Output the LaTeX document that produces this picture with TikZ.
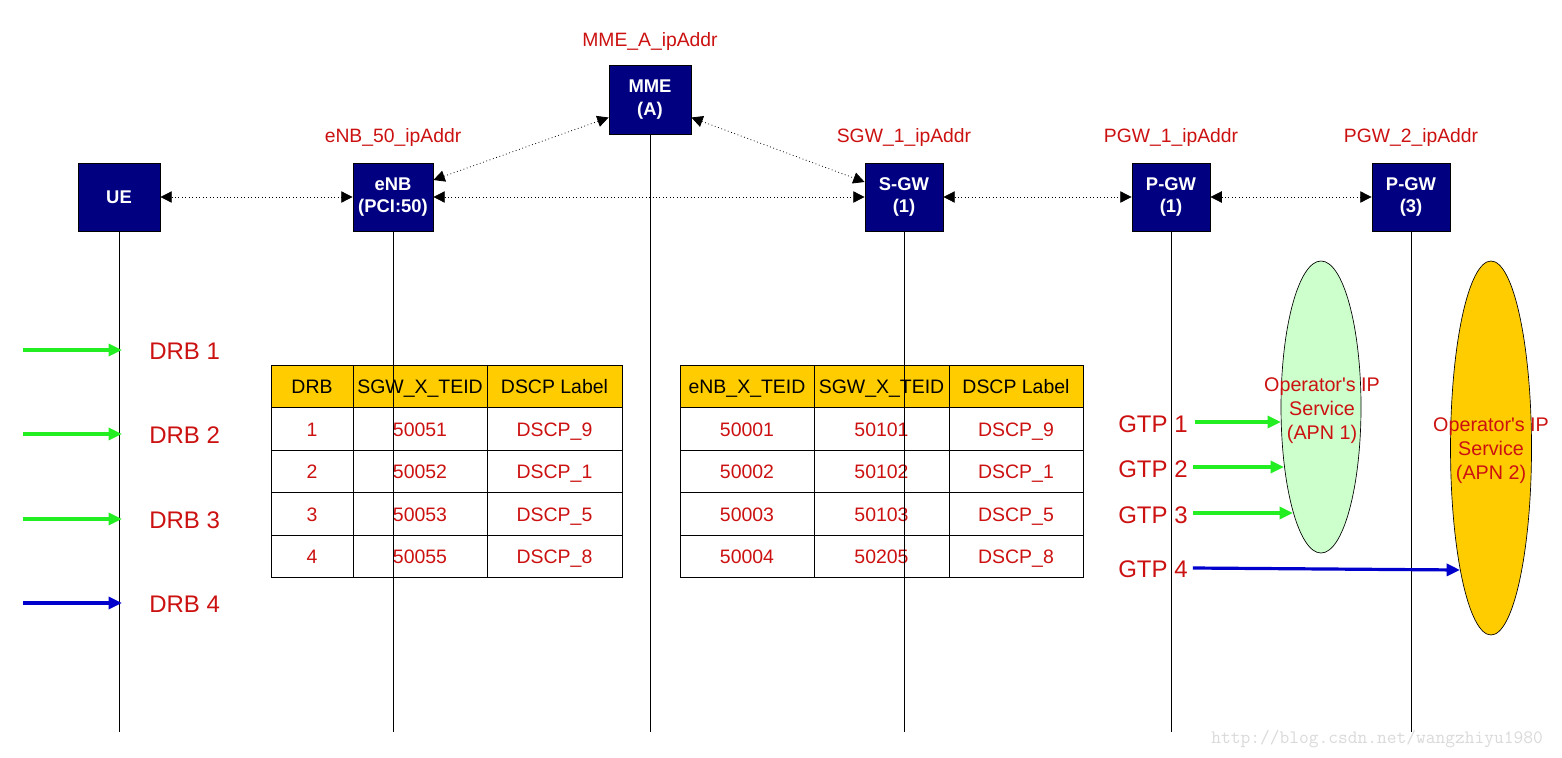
\documentclass[tikz,border=0pt]{standalone}
\usepackage{fontspec}
\setmainfont{Liberation Sans}
\newfontfamily\plainsans{Liberation Sans}
\usetikzlibrary{arrows.meta,calc,shapes.geometric}
\definecolor{navybox}{RGB}{0,0,128}
\definecolor{redtxt}{RGB}{204,17,17}
\definecolor{gold}{RGB}{255,204,0}
\definecolor{lightgreen}{RGB}{204,255,204}
\definecolor{arrowgreen}{RGB}{34,238,34}
\definecolor{arrowblue}{RGB}{0,0,204}
\definecolor{wmgray}{RGB}{218,218,218}
\begin{document}
\begin{tikzpicture}[x=0.75pt,y=-0.75pt,
  entity/.style={draw=black, fill=navybox, text=white, line width=0.6pt,
    font=\fontsize{13.8}{17}\selectfont\bfseries, align=center, inner sep=0pt},
  addr/.style={text=redtxt, font=\fontsize{14.5}{17}\selectfont, anchor=base},
  life/.style={line width=0.75pt, black},
  sig/.style={dotted, line width=0.6pt,
    {Triangle[length=8.5pt,width=8.5pt]}-{Triangle[length=8.5pt,width=8.5pt]}},
  flowarrow/.style={line width=2.4pt, -{Triangle[length=10pt,width=9pt]}},
  flowlbl/.style={text=redtxt, font=\fontsize{18}{20}\selectfont, anchor=west, inner sep=0pt},
  tbl/.style={line width=0.75pt, black},
  hdr/.style={text=black, font=\fontsize{14.6}{17}\selectfont, text height=0.72em, text depth=0pt, inner sep=0pt},
  cell/.style={text=redtxt, font=\fontsize{14.6}{17}\selectfont, text height=0.72em, text depth=0pt, inner sep=0pt},
  apn/.style={ellipse, draw=black, line width=0.5pt, inner sep=0pt},
  apntxt/.style={text=redtxt, font=\plainsans\fontsize{14.8}{18}\selectfont, align=center, inner sep=0pt}
]
\useasboundingbox (0,0) rectangle (1562,757);
\fill[white] (0,0) rectangle (1562,757);
\coordinate (bottom) at (0,732);

% tables (drawn first, lifelines over them)
\fill[gold] (271,365) rectangle (622,407);
\draw[tbl] (271,365) rectangle (622,577);
\foreach \y in {407,450,492,535} \draw[tbl] (271,\y) -- (622,\y);
\foreach \x in {353,487} \draw[tbl] (\x,365) -- (\x,577);
\node[hdr] (lh1) at (312,389) {DRB};
\node[hdr] (lh2) at (420,389) {SGW\_X\_TEID};
\node[hdr] (lh3) at (554.5,389) {DSCP Label};
\foreach \r/\a/\b/\c in {1/1/50051/9, 2/2/50052/1, 3/3/50053/5, 4/4/50055/8}{
  \node[cell] (la\r) at (312,{389+42.5*\r}) {\a};
  \node[cell] (lb\r) at (420,{389+42.5*\r}) {\b};
  \node[cell] (lc\r) at (554.5,{389+42.5*\r}) {DSCP\_\c};
}
\fill[gold] (680,365) rectangle (1083,407);
\draw[tbl] (680,365) rectangle (1083,577);
\foreach \y in {407,450,492,535} \draw[tbl] (680,\y) -- (1083,\y);
\foreach \x in {814,949} \draw[tbl] (\x,365) -- (\x,577);
\node[hdr] (rh1) at (747,389) {eNB\_X\_TEID};
\node[hdr] (rh2) at (881.5,389) {SGW\_X\_TEID};
\node[hdr] (rh3) at (1016,389) {DSCP Label};
\foreach \r/\a/\b/\c in {1/50001/50101/9, 2/50002/50102/1, 3/50003/50103/5, 4/50004/50205/8}{
  \node[cell] (ra\r) at (747,{389+42.5*\r}) {\a};
  \node[cell] (rb\r) at (881.5,{389+42.5*\r}) {\b};
  \node[cell] (rc\r) at (1016,{389+42.5*\r}) {DSCP\_\c};
}

% entities
\node[entity, minimum width=61.5pt, minimum height=51pt] (ue) at (119,197) {UE};
\node[entity, minimum width=60pt, minimum height=51pt] (enb) at (393,197) {eNB\\(PCI:50)};
\node[entity, minimum width=61.5pt, minimum height=51.75pt] (mme) at (650,99.5) {MME\\(A)};
\node[entity, minimum width=58.5pt, minimum height=51pt] (sgw) at (904,197) {S-GW\\(1)};
\node[entity, minimum width=58.5pt, minimum height=51pt] (pgw1) at (1171,197) {P-GW\\(1)};
\node[entity, minimum width=58.5pt, minimum height=51pt] (pgw2) at (1411,197) {P-GW\\(3)};

% address labels
\node[addr] (mmeaddr) at (650,46) {MME\_A\_ipAddr};
\node[addr] (enbaddr) at (393,142) {eNB\_50\_ipAddr};
\node[addr] (sgwaddr) at (904,142) {SGW\_1\_ipAddr};
\node[addr] (pgw1addr) at (1171,142) {PGW\_1\_ipAddr};
\node[addr] (pgw2addr) at (1411,142) {PGW\_2\_ipAddr};

% lifelines
\foreach \n in {ue,enb,mme,sgw,pgw1,pgw2}
  \draw[life] (\n.south) -- (\n.south |- bottom);

% signalling links
\draw[sig] (ue.east) -- (enb.west);
\draw[sig] (enb.east) -- (sgw.west);
\draw[sig] (sgw.east) -- (pgw1.west);
\draw[sig] (pgw1.east) -- (pgw2.west);
\draw[sig] ($(mme.west)+(0,18)$) -- ($(enb.east)+(0,-17)$);
\draw[sig] ($(mme.east)+(0,18)$) -- ($(sgw.west)+(0,-15)$);

% DRB arrows
\foreach \i/\y/\col in {1/350/arrowgreen, 2/434/arrowgreen, 3/519/arrowgreen, 4/603/arrowblue}{
  \coordinate (ds\i) at (23,\y);
  \coordinate (de\i) at (122,\y);
  \draw[flowarrow, \col] (ds\i) -- (de\i);
  \node[flowlbl] (drb\i) at (149,{\y+1}) {DRB \i};
}

% APN ellipses
\node[apn, fill=lightgreen, minimum width=60pt, minimum height=219pt] (apn1) at (1321,407) {};
\node[apn, fill=gold, minimum width=60.75pt, minimum height=280.5pt] (apn2) at (1491,448) {};
\node[apntxt] (apn1t) at (1322,411) {Operator's IP\\Service\\(APN 1)};
\node[apntxt] (apn2t) at (1491,451) {Operator's IP\\Service\\(APN 2)};

% GTP arrows
\node[flowlbl] (gtp1) at (1118,424) {GTP 1};
\node[flowlbl] (gtp2) at (1118,469) {GTP 2};
\node[flowlbl] (gtp3) at (1118,515) {GTP 3};
\node[flowlbl] (gtp4) at (1118,569) {GTP 4};
\coordinate (g1e) at (1281,422);
\coordinate (g2e) at (1284,467);
\coordinate (g3e) at (1293,513);
\coordinate (g4e) at (1460,570);
\draw[flowarrow, arrowgreen] ($(gtp1.east)+(7,-2)$) -- (g1e);
\draw[flowarrow, arrowgreen] ($(gtp2.east)+(5,-2)$) -- (g2e);
\draw[flowarrow, arrowgreen] ($(gtp3.east)+(5,-2)$) -- (g3e);
\draw[flowarrow, arrowblue] ($(gtp4.east)+(5,-1)$) -- (g4e);

% watermark
\node[anchor=west, inner sep=0pt, text=wmgray, font=\ttfamily\fontsize{14.2}{16}\selectfont] (wm) at (1211,739) {http://blog.csdn.net/wangzhiyu1980};
\end{tikzpicture}
\end{document}
